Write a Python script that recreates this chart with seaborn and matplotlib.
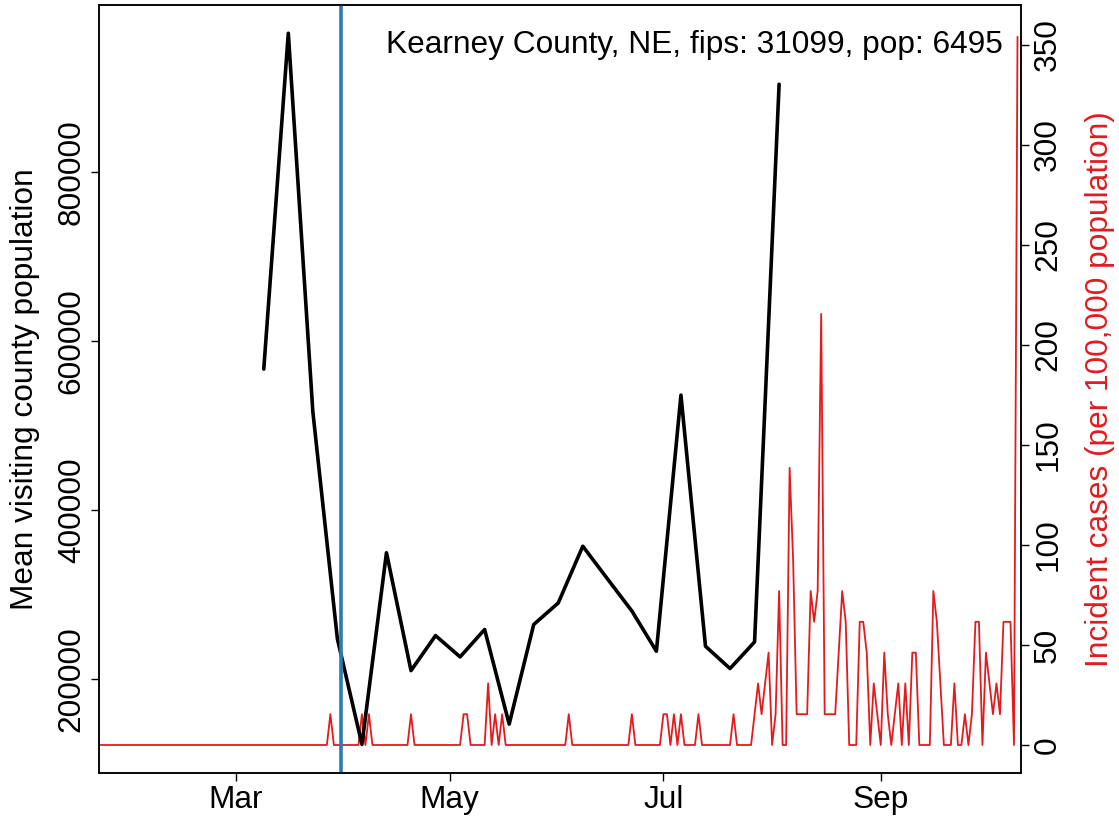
import pandas as pd
import matplotlib.pyplot as plt
import seaborn as sns

# Datos leidos del grafico
# visitas semanales (lunes)
semanas = pd.date_range('2020-03-09', '2020-08-03', freq='7D')
visitantes = [566900, 964100, 516500, 247800, 123000, 349700, 210300, 251700,
              226500, 258900, 147000, 264800, 290300, 357400, 319000, 280800,
              233200, 536100, 239100, 212700, 244200, 903800]

# casos diarios (solo los dias con casos, el resto es 0)
fechas_casos = ['2020-03-28', '2020-04-06', '2020-04-08', '2020-04-20', '2020-05-05',
                '2020-05-06', '2020-05-12', '2020-05-14', '2020-05-16', '2020-06-04',
                '2020-06-22', '2020-07-01', '2020-07-02', '2020-07-04', '2020-07-06',
                '2020-07-11', '2020-07-21', '2020-07-27', '2020-07-28', '2020-07-29',
                '2020-07-30', '2020-07-31', '2020-08-02', '2020-08-03', '2020-08-06',
                '2020-08-07', '2020-08-08', '2020-08-09', '2020-08-10', '2020-08-11',
                '2020-08-12', '2020-08-13', '2020-08-14', '2020-08-15', '2020-08-16',
                '2020-08-17', '2020-08-18', '2020-08-19', '2020-08-20', '2020-08-21',
                '2020-08-22', '2020-08-26', '2020-08-27', '2020-08-28', '2020-08-30',
                '2020-08-31', '2020-09-02', '2020-09-03', '2020-09-05', '2020-09-06',
                '2020-09-08', '2020-09-10', '2020-09-11', '2020-09-16', '2020-09-17',
                '2020-09-18', '2020-09-22', '2020-09-25', '2020-09-27', '2020-09-28',
                '2020-09-29', '2020-10-01', '2020-10-02', '2020-10-03', '2020-10-04',
                '2020-10-05', '2020-10-06', '2020-10-07', '2020-10-08', '2020-10-10']
casos = [1, 1, 1, 1, 1,
         1, 2, 1, 1, 1,
         1, 1, 1, 1, 1,
         1, 1, 1, 2, 1,
         2, 3, 1, 5, 9,
         6, 1, 1, 1, 1,
         5, 4, 5, 14, 1,
         1, 1, 1, 3, 5,
         4, 4, 4, 3, 2,
         1, 3, 1, 1, 2,
         2, 3, 3, 5, 4,
         2, 2, 1, 1, 4,
         4, 3, 2, 1, 2,
         1, 4, 4, 4, 23]
poblacion = 6495
cuarentena = pd.Timestamp('2020-03-31')
titulo = 'Kearney County, NE, fips: 31099, pop: 6495'

# serie diaria completa
dias = pd.date_range('2020-01-22', '2020-10-10')
serie = pd.Series(casos, index=pd.to_datetime(fechas_casos)).reindex(dias, fill_value=0)
df_casos = pd.DataFrame({'Fecha': dias, 'Tasa': serie.values / poblacion * 100000})
df_visitas = pd.DataFrame({'Fecha': semanas, 'Visitantes': visitantes})

# Estilo
sns.set_style('ticks')
plt.rcParams['font.family'] = ['Liberation Sans', 'DejaVu Sans']
plt.rcParams['text.color'] = 'black'
plt.rcParams['xtick.color'] = 'black'
plt.rcParams['ytick.color'] = 'black'
fs = 22.8

fig, ax = plt.subplots(figsize=(11.19, 8.22), dpi=100)
fig.subplots_adjust(left=99/1119, right=1021/1119, bottom=1-773/822, top=1-5/822)
ax2 = ax.twinx()

sns.lineplot(x='Fecha', y='Tasa', data=df_casos, ax=ax2, color='#E41A1C', lw=1.3)
sns.lineplot(x='Fecha', y='Visitantes', data=df_visitas, ax=ax, color='black', lw=2.6)
ax.axvline(cuarentena, color='#2A7AB8', lw=2.6)

# eje izquierdo arriba del rojo
ax.set_zorder(ax2.get_zorder() + 1)
ax.patch.set_visible(False)

ax.set_xlim(pd.Timestamp('2020-01-22'), pd.Timestamp('2020-10-11'))
ax.set_ylim(89180, 997510)
ax2.set_ylim(-14, 370)

meses = pd.to_datetime(['2020-03-01', '2020-05-01', '2020-07-01', '2020-09-01'])
ax.set_xticks(meses)
ax.set_xticklabels(['Mar', 'May', 'Jul', 'Sep'])
ticks_izq = [200000, 400000, 600000, 800000]
ax.set_yticks(ticks_izq)
ax.set_yticklabels([str(t) for t in ticks_izq], rotation=90, va='center')
ticks_der = list(range(0, 351, 50))
ax2.set_yticks(ticks_der)
ax2.set_yticklabels([str(t) for t in ticks_der], rotation=90, va='center')

for a in (ax, ax2):
    a.tick_params(length=5.8, width=1, pad=3, labelsize=fs, color='black', labelcolor='black')
    a.set_xlabel('')
    a.set_ylabel('')
    for s in a.spines.values():
        s.set_visible(True)
        s.set_color('black')
        s.set_linewidth(1.1)

ax.text(0.9805, 0.948, titulo, transform=ax.transAxes, ha='right', va='center',
        fontsize=fs, color='black')

fig.text(25/1119, 1-389/822, 'Mean visiting county population', rotation=90,
         ha='center', va='center', fontsize=fs, color='black')
fig.text(1100/1119, 1-389/822, 'Incident cases (per 100,000 population)', rotation=90,
         ha='center', va='center', fontsize=fs, color='#E41A1C')

plt.savefig('out.png', dpi=100)
